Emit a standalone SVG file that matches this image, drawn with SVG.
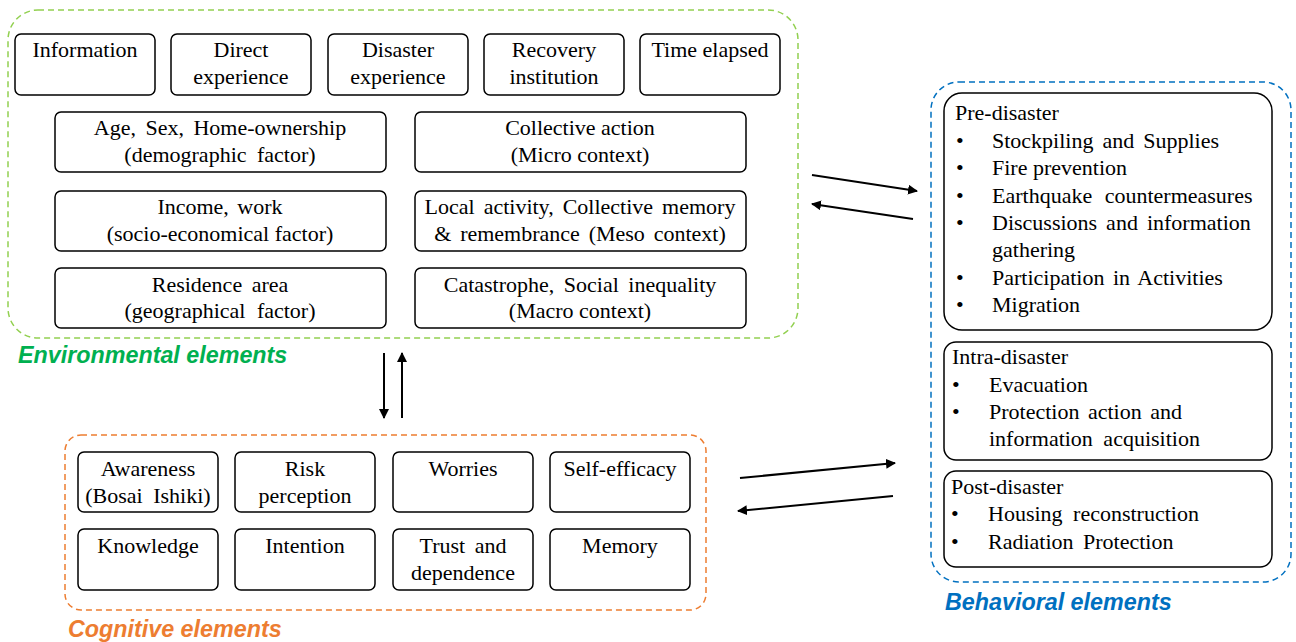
<svg xmlns="http://www.w3.org/2000/svg" width="1296" height="642" viewBox="0 0 1296 642">
<defs>
<marker id="ah" viewBox="0 0 10 10" refX="9" refY="5" markerWidth="5" markerHeight="5" orient="auto" markerUnits="strokeWidth">
<path d="M0,0 L10,5 L0,10 z" fill="#000"/>
</marker>
</defs>
<rect width="1296" height="642" fill="#fff"/>

<g fill="none" stroke-width="1.5" stroke-dasharray="6 4">
<rect id="environmental-frame" x="8" y="10" width="790" height="328" rx="30" stroke="#92D050"/>
<rect id="cognitive-frame" x="65" y="435" width="641" height="175" rx="16" stroke="#ED7D31"/>
<rect id="behavioral-frame" x="931" y="82" width="360" height="500" rx="28" stroke="#0070C0"/>
</g>
<g font-family="Liberation Sans, Arial, sans-serif" font-size="23.3" font-weight="bold" font-style="italic">
<text id="environmental-label" x="18" y="363" fill="#00B050">Environmental elements</text>
<text id="cognitive-label" x="68" y="637" fill="#ED7D31">Cognitive elements</text>
<text id="behavioral-label" x="945" y="610" fill="#0070C0">Behavioral elements</text>
</g>

<g id="nodes" font-family="Liberation Serif, Times New Roman, serif" font-size="22" fill="#000">
<g fill="#fff" stroke="#000" stroke-width="1.5">
<rect x="15" y="34" width="140" height="61" rx="6"/>
<rect x="171" y="34" width="140" height="61" rx="6"/>
<rect x="328" y="34" width="140" height="61" rx="6"/>
<rect x="484" y="34" width="140" height="61" rx="6"/>
<rect x="640" y="34" width="140" height="61" rx="6"/>
<rect x="55" y="112" width="331" height="60" rx="6"/>
<rect x="55" y="191" width="331" height="60" rx="6"/>
<rect x="55" y="268" width="331" height="60" rx="6"/>
<rect x="415" y="112" width="331" height="60" rx="6"/>
<rect x="415" y="191" width="331" height="60" rx="6"/>
<rect x="415" y="268" width="331" height="60" rx="6"/>
<rect x="78" y="452" width="140" height="60" rx="6"/>
<rect x="235" y="452" width="140" height="60" rx="6"/>
<rect x="393" y="452" width="140" height="60" rx="6"/>
<rect x="550" y="452" width="140" height="60" rx="6"/>
<rect x="78" y="529" width="140" height="61" rx="6"/>
<rect x="235" y="529" width="140" height="61" rx="6"/>
<rect x="393" y="529" width="140" height="61" rx="6"/>
<rect x="550" y="529" width="140" height="61" rx="6"/>
<rect x="944" y="93" width="328" height="237" rx="18"/>
<rect x="944" y="342" width="328" height="118" rx="12"/>
<rect x="944" y="471" width="328" height="96" rx="12"/>
</g>
<g text-anchor="middle">
<g id="env-information"><text x="85" y="57">Information</text></g>
<g id="env-direct"><text x="241" y="57">Direct</text><text x="241" y="84">experience</text></g>
<g id="env-disaster"><text x="398" y="57">Disaster</text><text x="398" y="84">experience</text></g>
<g id="env-recovery"><text x="554" y="57">Recovery</text><text x="554" y="84">institution</text></g>
<g id="env-time"><text x="710" y="57">Time elapsed</text></g>
<g id="env-demographic"><text x="220" y="135" word-spacing="4">Age, Sex, Home-ownership</text><text x="220" y="162" word-spacing="5">(demographic factor)</text></g>
<g id="env-socio"><text x="220" y="214" word-spacing="3">Income, work</text><text x="220" y="241">(socio-economical factor)</text></g>
<g id="env-geo"><text x="220" y="292" word-spacing="4">Residence area</text><text x="220" y="318" word-spacing="6">(geographical factor)</text></g>
<g id="env-micro"><text x="580" y="135">Collective action</text><text x="580" y="162">(Micro context)</text></g>
<g id="env-meso"><text x="580" y="214" word-spacing="3.5">Local activity, Collective memory</text><text x="580" y="241" word-spacing="3.3">&amp; remembrance (Meso context)</text></g>
<g id="env-macro"><text x="580" y="292" word-spacing="4">Catastrophe, Social inequality</text><text x="580" y="318">(Macro context)</text></g>
<g id="cog-awareness"><text x="148" y="476">Awareness</text><text x="148" y="503" word-spacing="5">(Bosai Ishiki)</text></g>
<g id="cog-risk"><text x="305" y="476">Risk</text><text x="305" y="503">perception</text></g>
<g id="cog-worries"><text x="463" y="476">Worries</text></g>
<g id="cog-selfefficacy"><text x="620" y="476">Self-efficacy</text></g>
<g id="cog-knowledge"><text x="148" y="553">Knowledge</text></g>
<g id="cog-intention"><text x="305" y="553">Intention</text></g>
<g id="cog-trust"><text x="463" y="553" word-spacing="4">Trust and</text><text x="463" y="580">dependence</text></g>
<g id="cog-memory"><text x="620" y="553">Memory</text></g>
</g>

<g id="beh-pre">
<text x="955" y="120">Pre-disaster</text>
<text x="956" y="148">•</text><text x="992" y="148" word-spacing="3.5">Stockpiling and Supplies</text>
<text x="956" y="175">•</text><text x="992" y="175">Fire prevention</text>
<text x="956" y="203">•</text><text x="992" y="203" word-spacing="7">Earthquake countermeasures</text>
<text x="956" y="230">•</text><text x="992" y="230" word-spacing="3.5">Discussions and information</text>
<text x="992" y="257">gathering</text>
<text x="956" y="285">•</text><text x="992" y="285" word-spacing="3">Participation in Activities</text>
<text x="956" y="312">•</text><text x="992" y="312">Migration</text>
</g>
<g id="beh-intra">
<text x="952" y="364">Intra-disaster</text>
<text x="952" y="392">•</text><text x="989" y="392">Evacuation</text>
<text x="952" y="419">•</text><text x="989" y="419" word-spacing="3">Protection action and</text>
<text x="989" y="446" word-spacing="5">information acquisition</text>
</g>
<g id="beh-post">
<text x="951" y="494">Post-disaster</text>
<text x="951" y="521">•</text><text x="988" y="521" word-spacing="5">Housing reconstruction</text>
<text x="951" y="549">•</text><text x="988" y="549" word-spacing="4">Radiation Protection</text>
</g>
</g>

<g id="connectors" stroke="#000" stroke-width="2" fill="none" marker-end="url(#ah)">
<line x1="384" y1="353" x2="384" y2="418"/>
<line x1="402" y1="418" x2="402" y2="353"/>
<line x1="812" y1="175" x2="917" y2="191"/>
<line x1="913" y1="219" x2="812" y2="204"/>
<line x1="740" y1="478" x2="895" y2="463"/>
<line x1="893" y1="496" x2="738" y2="511"/>
</g>
</svg>
